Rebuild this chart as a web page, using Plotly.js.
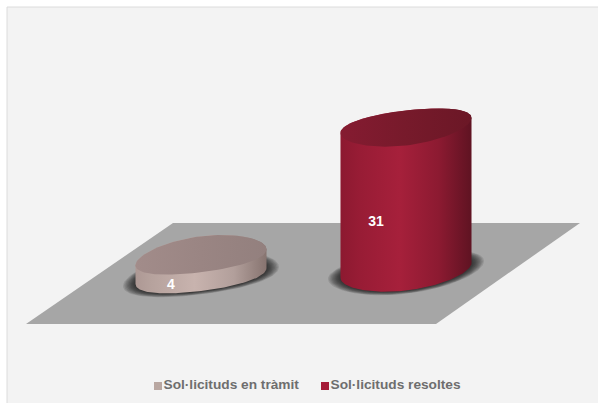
<!DOCTYPE html>
<html><head><meta charset="utf-8">
<script src="https://cdn.plot.ly/plotly-3.0.1.min.js"></script>
<style>html,body{margin:0;padding:0;background:#fff}#c{width:598px;height:403px}</style></head>
<body><div id="c"></div>
<script>
const categories = ["Sol·licituds en tràmit", "Sol·licituds resoltes"];
const values = [4, 31];
const sideScales = [
  [[0,"#ad9894"],[0.12,"#b6a29d"],[0.45,"#c8b3ae"],[0.75,"#b29f9b"],[1,"#877470"]],
  [[0,"#8c1930"],[0.15,"#981c35"],[0.45,"#a6203b"],[0.75,"#8c1a31"],[1,"#5f1322"]]
];
const topScales = [
  [[0,"#a28c8a"],[0.5,"#9a8583"],[1,"#93807e"]],
  [[0,"#851b31"],[0.5,"#771a2b"],[1,"#6b1726"]]
];
const legendColors = ["#b9a7a1", "#a51c38"];

// axis scale: one category step = 205px, one value unit = 4.68px
const W = 598, H = 403, PX = 205, PY = 4.68, X0 = 201, Y0 = 273;
const ux = p => (p - X0) / PX, uy = p => (Y0 - p) / PY;
const A = 65.5 / PX, Ks = [8 / PY, 7.5 / PY], Bs = [18 / PY, 17.5 / PY], Es = [-3 / PY, 2.5 / PY];

function ring(cx, base, i, t0, t1, g) {
  const xs = [], ys = [];
  for (let j = 0; j <= 96; j++) {
    const t = t0 + (t1 - t0) * j / 96, c = Math.cos(t), s = Math.sin(t);
    xs.push(cx + A * g * c);
    ys.push(base + (Ks[i] * c + Bs[i] * s + Es[i] * c * c) * g);
  }
  return [xs, ys];
}
const fillT = (x, y, color, extra) => Object.assign({
  x, y, mode: "lines", fill: "toself", line: {width: 0}, fillcolor: color,
  hoverinfo: "skip", showlegend: false
}, extra || {});

const traces = [];
// floor
const fx = [173, 580, 436, 26].map(ux), fy = [223, 223, 324, 324].map(uy);
traces.push(fillT(fx, fy, "#a6a6a6"));

values.forEach((v, i) => {
  // soft shadow
  for (let s = 0; s < 10; s++) {
    const sh = ring(i, 0, i, 0, 2 * Math.PI, 1.19 - s * 0.02);
    traces.push(fillT(sh[0], sh[1], "rgba(15,15,15,0.12)"));
  }
  // side
  const low = ring(i, 0, i, Math.PI, 2 * Math.PI, 1);
  const up = ring(i, v, i, 0, Math.PI, 1);
  traces.push(fillT(low[0].concat(up[0]), low[1].concat(up[1]), sideScales[i][2][1],
    {fillgradient: {type: "horizontal", colorscale: sideScales[i]}}));
  // top
  const tp = ring(i, v, i, 0, 2 * Math.PI, 1);
  traces.push(fillT(tp[0], tp[1], topScales[i][1][1],
    {fillgradient: {type: "horizontal", colorscale: topScales[i]}}));
  // value label
  traces.push({x: [i - 30 / PX], y: [v / 2 - 22 / PY], mode: "text", text: [String(v)],
    textposition: "middle center", textfont: {family: "Liberation Sans", size: 14, color: "#fff", weight: 700},
    hoverinfo: "skip", showlegend: false});
});
// legend entries
const legX = [158, 325], legY = 386;
categories.forEach((c, i) => {
  traces.push({x: [ux(legX[i])], y: [uy(legY)], mode: "markers", name: c,
    marker: {symbol: "square", size: 8, color: legendColors[i]}, hoverinfo: "skip", showlegend: false});
  traces.push({x: [ux(legX[i] + 5.5)], y: [uy(legY)], mode: "text", text: [c], textposition: "middle right",
    textfont: {family: "Liberation Sans", size: 13.7, color: "#6e6e6e", weight: 700},
    hoverinfo: "skip", showlegend: false});
});

const hidden = {visible: false, fixedrange: true};
const layout = {
  width: W, height: H, margin: {l: 0, r: 0, t: 0, b: 0, pad: 0},
  paper_bgcolor: "#fff", plot_bgcolor: "rgba(0,0,0,0)", showlegend: false,
  xaxis: Object.assign({range: [ux(0), ux(W)]}, hidden),
  yaxis: Object.assign({range: [uy(H), uy(0)]}, hidden),
  shapes: [
    {type: "rect", layer: "below", xref: "paper", yref: "paper", x0: 7 / W, x1: 1, y0: 0, y1: 1 - 7 / H,
      fillcolor: "#f3f3f3", line: {width: 0}},
    {type: "line", layer: "below", xref: "paper", yref: "paper", x0: 7 / W, x1: 1, y0: 1 - 7 / H, y1: 1 - 7 / H,
      line: {color: "#dcdcdc", width: 1}},
    {type: "line", layer: "below", xref: "paper", yref: "paper", x0: 7 / W, x1: 7 / W, y0: 0, y1: 1 - 7 / H,
      line: {color: "#dcdcdc", width: 1}}
  ]
};
Plotly.newPlot("c", traces, layout, {displayModeBar: false, staticPlot: true});
</script></body></html>
